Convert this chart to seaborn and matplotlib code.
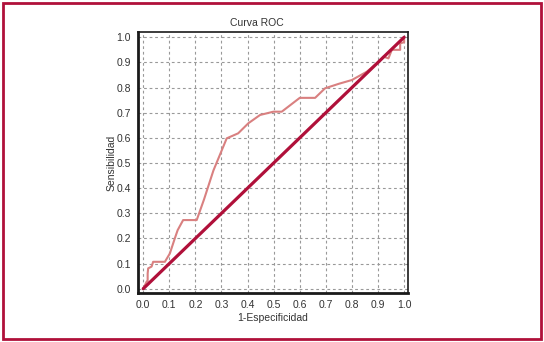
import pandas as pd
import seaborn as sns
import matplotlib.pyplot as plt
from matplotlib.patches import Rectangle

# ROC curve (1-specificity, sensitivity)
fpr = [0.0, 0.013, 0.017, 0.017, 0.019, 0.032, 0.038, 0.083, 0.102, 0.121,
       0.132, 0.153, 0.205, 0.233, 0.269, 0.32, 0.364, 0.403, 0.448, 0.499,
       0.531, 0.6, 0.659, 0.697, 0.75, 0.80, 0.857, 0.90, 0.921, 0.94,
       0.953, 0.985, 0.985, 1.0, 1.0]
tpr = [0.0, 0.028, 0.03, 0.061, 0.081, 0.088, 0.107, 0.107, 0.14, 0.2,
       0.233, 0.273, 0.273, 0.355, 0.47, 0.598, 0.618, 0.658, 0.691, 0.704,
       0.704, 0.759, 0.759, 0.797, 0.815, 0.83, 0.863, 0.9, 0.923, 0.916,
       0.95, 0.95, 0.976, 0.98, 1.0]
ref_x = [0.0, 1.0]
ref_y = [0.0, 1.0]
ticks = [0.0, 0.1, 0.2, 0.3, 0.4, 0.5, 0.6, 0.7, 0.8, 0.9, 1.0]

roc = pd.DataFrame({"fpr": fpr, "tpr": tpr})
diag = pd.DataFrame({"fpr": ref_x, "tpr": ref_y})

sns.set_style("white")
plt.rcParams["font.family"] = ["Liberation Sans", "DejaVu Sans"]

fig = plt.figure(figsize=(5.44, 3.42), dpi=100)
ax = fig.add_axes([0.2537, 0.1433, 0.4963, 0.7632])

sns.lineplot(data=roc, x="fpr", y="tpr", sort=False, estimator=None,
             color="#d98080", linewidth=1.5, ax=ax)
sns.lineplot(data=diag, x="fpr", y="tpr", sort=False, estimator=None,
             color="#b0103a", linewidth=2.3, ax=ax)

ax.set_xlim(-0.02, 1.015)
ax.set_ylim(-0.017, 1.021)
ax.set_xticks(ticks)
ax.set_yticks(ticks)
ax.set_xticklabels([f"{t:.1f}" for t in ticks])
ax.set_yticklabels([f"{t:.1f}" for t in ticks])
ax.tick_params(labelsize=7.5, colors="#333333", length=3, width=0.8,
               direction="out", pad=2)
ax.grid(True, linestyle=(0, (2.5, 2.5)), color="#999999", linewidth=0.8)
for side, sp in ax.spines.items():
    sp.set_visible(True)
    sp.set_color("#1a1a1a")
    sp.set_linewidth(2.0 if side in ("left", "bottom") else 1.2)

ax.set_title("Curva ROC", fontsize=7.5, color="#333333", x=0.44, pad=4)
ax.set_xlabel("1-Especificidad", fontsize=7.5, color="#333333", labelpad=2)
ax.set_ylabel("Sensibilidad", fontsize=7.5, color="#333333", labelpad=0)

fig.patches.append(Rectangle((0.006, 0.009), 0.988, 0.982, transform=fig.transFigure,
                             fill=False, edgecolor="#b0103a", linewidth=2))

fig.savefig("out.png", dpi=100)
